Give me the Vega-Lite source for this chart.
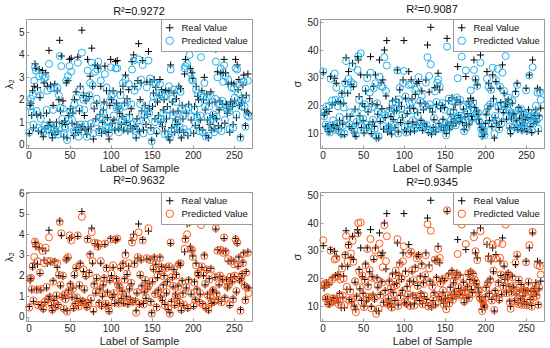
{
"$schema": "https://vega.github.io/schema/vega-lite/v6.json",
"padding": {"left": 2, "top": 3, "right": 2, "bottom": 2},
"background": "white",
"config": {
  "font": "Liberation Sans",
  "view": {"stroke": "#9a9a9a", "strokeWidth": 1},
  "axis": {"grid": false, "domainColor": "#9a9a9a", "tickColor": "#9a9a9a", "tickSize": -3, "labelPadding": 5, "labelFontSize": 10, "labelColor": "#262626", "titleFontSize": 11, "titleFontWeight": "normal", "titleColor": "#262626", "labelFont": "Liberation Sans", "titleFont": "Liberation Sans"},
  "axisY": {"titlePadding": 4},
  "axisX": {"titlePadding": 2},
  "title": {"fontSize": 11, "fontWeight": "normal", "color": "#111", "offset": 2, "font": "Liberation Sans"},
  "legend": {"orient": "top-right", "offset": 0, "title": null, "strokeColor": "#9a9a9a", "fillColor": "white", "padding": 4, "labelFontSize": 9.5, "labelOffset": 7, "labelColor": "#111", "symbolSize": 56, "symbolStrokeWidth": 1, "rowPadding": 1},
  "point": {"size": 49, "strokeWidth": 1, "filled": false, "opacity": 1}
},
"datasets": {"d": [
{"i":1,"L":0.5,"a":0.55,"b":0.45,"S":31.8,"c":32.3,"d":33.8},
{"i":2,"L":1.75,"a":1.7,"b":1.85,"S":16.5,"c":16.0,"d":17.5},
{"i":3,"L":1.85,"a":2.05,"b":1.9,"S":17.2,"c":18.0,"d":18.2},
{"i":4,"L":1.3,"a":1.45,"b":1.35,"S":12.4,"c":13.0,"d":12.8},
{"i":5,"L":2.4,"a":2.2,"b":2.45,"S":18.5,"c":19.6,"d":18.0},
{"i":6,"L":0.75,"a":0.9,"b":0.8,"S":12.4,"c":12.0,"d":13.2},
{"i":7,"L":2.6,"a":2.85,"b":2.9,"S":10.6,"c":11.2,"d":10.8},
{"i":8,"L":3.6,"a":3.45,"b":3.65,"S":17.8,"c":19.8,"d":18.3},
{"i":9,"L":3.4,"a":3.3,"b":3.5,"S":10.6,"c":10.2,"d":11.5},
{"i":10,"L":1.35,"a":1.5,"b":1.3,"S":30.4,"c":29.6,"d":30.0},
{"i":11,"L":2.55,"a":2.4,"b":2.7,"S":11.8,"c":12.8,"d":11.2},
{"i":12,"L":0.6,"a":0.75,"b":0.55,"S":20.2,"c":21.8,"d":19.6},
{"i":13,"L":3.35,"a":3.05,"b":3.4,"S":13.0,"c":14.6,"d":12.8},
{"i":14,"L":2.1,"a":2.2,"b":2.15,"S":11.8,"c":11.2,"d":12.2},
{"i":15,"L":1.3,"a":1.15,"b":1.35,"S":29.8,"c":31.5,"d":26.8},
{"i":16,"L":0.55,"a":0.65,"b":0.6,"S":21.0,"c":22.0,"d":20.5},
{"i":17,"L":3.3,"a":3.1,"b":3.2,"S":28.0,"c":26.4,"d":27.2},
{"i":18,"L":0.35,"a":0.55,"b":0.4,"S":12.8,"c":13.5,"d":12.2},
{"i":19,"L":2.75,"a":2.95,"b":2.6,"S":21.4,"c":19.6,"d":20.8},
{"i":20,"L":0.7,"a":0.85,"b":0.75,"S":11.2,"c":10.8,"d":10.6},
{"i":21,"L":3.2,"a":3.0,"b":3.35,"S":14.5,"c":15.8,"d":14.0},
{"i":22,"L":1.4,"a":1.55,"b":1.45,"S":20.8,"c":21.6,"d":19.6},
{"i":23,"L":2.6,"a":2.4,"b":2.7,"S":9.4,"c":10.0,"d":10.2},
{"i":24,"L":0.85,"a":0.65,"b":0.9,"S":24.4,"c":24.0,"d":23.6},
{"i":25,"L":4.2,"a":3.6,"b":3.85,"S":13.2,"c":12.6,"d":13.8},
{"i":26,"L":1.0,"a":0.9,"b":0.95,"S":20.8,"c":19.2,"d":20.0},
{"i":27,"L":2.65,"a":2.5,"b":2.7,"S":9.4,"c":9.8,"d":10.4},
{"i":28,"L":0.55,"a":0.75,"b":0.6,"S":28.6,"c":28.0,"d":28.4},
{"i":29,"L":0.3,"a":0.4,"b":0.35,"S":37.2,"c":36.0,"d":35.4},
{"i":30,"L":1.75,"a":1.55,"b":1.7,"S":16.0,"c":15.0,"d":17.0},
{"i":31,"L":0.8,"a":0.65,"b":0.75,"S":24.4,"c":25.6,"d":26.0},
{"i":32,"L":2.7,"a":2.5,"b":2.65,"S":32.2,"c":29.6,"d":32.0},
{"i":33,"L":0.45,"a":0.55,"b":0.5,"S":12.4,"c":13.2,"d":12.0},
{"i":34,"L":1.0,"a":0.85,"b":1.05,"S":16.0,"c":17.5,"d":15.2},
{"i":35,"L":2.4,"a":2.55,"b":2.6,"S":27.6,"c":28.4,"d":29.0},
{"i":36,"L":0.6,"a":0.45,"b":0.55,"S":11.6,"c":12.0,"d":12.4},
{"i":37,"L":2.0,"a":2.2,"b":2.05,"S":35.2,"c":34.0,"d":33.6},
{"i":38,"L":4.65,"a":3.95,"b":4.6,"S":26.8,"c":27.6,"d":26.0},
{"i":39,"L":1.5,"a":1.65,"b":1.55,"S":10.0,"c":11.0,"d":9.6},
{"i":40,"L":3.95,"a":3.5,"b":4.05,"S":18.6,"c":17.4,"d":19.0},
{"i":41,"L":0.95,"a":1.15,"b":1.0,"S":8.8,"c":9.4,"d":7.8},
{"i":42,"L":1.95,"a":1.6,"b":2.0,"S":13.6,"c":14.0,"d":13.2},
{"i":43,"L":0.35,"a":0.5,"b":0.4,"S":37.6,"c":32.8,"d":36.2},
{"i":44,"L":1.05,"a":0.8,"b":1.1,"S":36.4,"c":37.8,"d":40.0},
{"i":45,"L":0.9,"a":0.7,"b":0.85,"S":23.2,"c":22.0,"d":22.6},
{"i":46,"L":2.75,"a":2.85,"b":2.8,"S":16.2,"c":15.0,"d":16.8},
{"i":47,"L":0.3,"a":0.2,"b":0.25,"S":31.0,"c":38.8,"d":40.2},
{"i":48,"L":2.85,"a":3.05,"b":2.9,"S":12.0,"c":12.6,"d":11.4},
{"i":49,"L":1.3,"a":1.1,"b":1.25,"S":20.6,"c":19.2,"d":21.0},
{"i":50,"L":3.8,"a":3.5,"b":3.95,"S":14.6,"c":15.2,"d":14.0},
{"i":51,"L":1.6,"a":1.45,"b":1.55,"S":10.0,"c":10.8,"d":9.6},
{"i":52,"L":3.85,"a":3.25,"b":3.7,"S":19.6,"c":20.4,"d":19.2},
{"i":53,"L":0.95,"a":1.1,"b":1.0,"S":25.2,"c":26.0,"d":24.8},
{"i":54,"L":1.4,"a":1.55,"b":1.35,"S":11.8,"c":13.0,"d":12.4},
{"i":55,"L":0.4,"a":0.6,"b":0.45,"S":31.0,"c":29.8,"d":30.6},
{"i":56,"L":2.0,"a":1.8,"b":2.05,"S":17.6,"c":18.6,"d":17.0},
{"i":57,"L":0.65,"a":0.55,"b":0.6,"S":13.0,"c":12.2,"d":13.4},
{"i":58,"L":2.35,"a":2.1,"b":2.4,"S":22.4,"c":24.6,"d":23.0},
{"i":59,"L":0.9,"a":0.75,"b":0.95,"S":37.6,"c":31.8,"d":34.2},
{"i":60,"L":3.9,"a":3.65,"b":3.95,"S":9.8,"c":10.4,"d":9.2},
{"i":61,"L":0.55,"a":0.35,"b":0.5,"S":20.6,"c":19.4,"d":20.2},
{"i":62,"L":1.5,"a":1.6,"b":1.55,"S":14.0,"c":14.8,"d":13.6},
{"i":63,"L":2.6,"a":2.45,"b":2.55,"S":26.8,"c":26.2,"d":27.2},
{"i":64,"L":0.75,"a":0.9,"b":0.7,"S":12.4,"c":11.6,"d":12.8},
{"i":65,"L":5.1,"a":4.1,"b":4.85,"S":31.0,"c":28.0,"d":30.2},
{"i":66,"L":0.8,"a":0.6,"b":0.75,"S":8.2,"c":8.8,"d":7.2},
{"i":67,"L":2.2,"a":2.0,"b":2.3,"S":20.2,"c":20.8,"d":19.6},
{"i":68,"L":1.3,"a":1.55,"b":1.35,"S":16.8,"c":17.6,"d":17.4},
{"i":69,"L":0.65,"a":0.9,"b":0.7,"S":8.2,"c":8.8,"d":9.0},
{"i":70,"L":1.95,"a":2.15,"b":2.0,"S":36.4,"c":30.4,"d":32.6},
{"i":71,"L":0.45,"a":0.35,"b":0.5,"S":14.2,"c":14.6,"d":13.8},
{"i":72,"L":3.8,"a":3.3,"b":3.75,"S":28.2,"c":27.0,"d":28.6},
{"i":73,"L":0.7,"a":0.6,"b":0.65,"S":18.8,"c":17.4,"d":18.4},
{"i":74,"L":2.15,"a":2.2,"b":2.1,"S":29.2,"c":26.6,"d":24.0},
{"i":75,"L":3.05,"a":2.75,"b":3.0,"S":11.4,"c":12.6,"d":11.0},
{"i":76,"L":0.8,"a":0.95,"b":0.9,"S":40.0,"c":37.4,"d":39.2},
{"i":77,"L":4.3,"a":3.65,"b":4.1,"S":15.6,"c":16.4,"d":15.0},
{"i":78,"L":2.6,"a":2.65,"b":2.7,"S":23.4,"c":25.2,"d":26.2},
{"i":79,"L":0.25,"a":0.5,"b":0.35,"S":43.4,"c":34.4,"d":35.2},
{"i":80,"L":1.6,"a":1.75,"b":1.55,"S":10.4,"c":11.6,"d":10.8},
{"i":81,"L":3.55,"a":3.25,"b":3.6,"S":12.6,"c":12.0,"d":13.2},
{"i":82,"L":1.15,"a":1.0,"b":1.2,"S":19.0,"c":17.6,"d":18.6},
{"i":83,"L":1.85,"a":2.05,"b":1.9,"S":11.0,"c":11.8,"d":10.6},
{"i":84,"L":3.5,"a":3.35,"b":3.4,"S":16.0,"c":16.6,"d":16.4},
{"i":85,"L":3.4,"a":3.7,"b":3.55,"S":9.6,"c":10.4,"d":9.4},
{"i":86,"L":0.7,"a":0.55,"b":0.65,"S":21.6,"c":20.8,"d":21.0},
{"i":87,"L":1.35,"a":1.2,"b":1.3,"S":14.8,"c":13.2,"d":14.4},
{"i":88,"L":2.6,"a":2.85,"b":2.7,"S":17.8,"c":19.0,"d":17.2},
{"i":89,"L":0.5,"a":0.65,"b":0.55,"S":12.0,"c":12.8,"d":11.6},
{"i":90,"L":1.0,"a":1.2,"b":1.1,"S":22.2,"c":21.0,"d":22.8},
{"i":91,"L":1.55,"a":1.4,"b":1.6,"S":18.2,"c":18.8,"d":17.6},
{"i":92,"L":1.9,"a":1.7,"b":1.85,"S":32.8,"c":32.6,"d":34.2},
{"i":93,"L":3.5,"a":3.15,"b":3.55,"S":10.4,"c":9.8,"d":10.0},
{"i":94,"L":0.6,"a":0.8,"b":0.65,"S":21.0,"c":22.2,"d":20.6},
{"i":95,"L":2.4,"a":2.55,"b":2.35,"S":25.6,"c":26.4,"d":25.2},
{"i":96,"L":1.2,"a":1.0,"b":1.15,"S":13.8,"c":14.4,"d":13.2},
{"i":97,"L":0.55,"a":0.75,"b":0.5,"S":19.6,"c":18.6,"d":20.0},
{"i":98,"L":0.25,"a":0.5,"b":0.3,"S":15.6,"c":16.6,"d":15.0},
{"i":99,"L":1.75,"a":1.95,"b":1.8,"S":29.2,"c":28.0,"d":26.2},
{"i":100,"L":3.8,"a":3.45,"b":3.75,"S":43.4,"c":32.4,"d":31.6},
{"i":101,"L":2.0,"a":2.2,"b":2.1,"S":11.2,"c":12.2,"d":11.6},
{"i":102,"L":0.95,"a":0.8,"b":1.0,"S":22.6,"c":23.2,"d":21.8},
{"i":103,"L":2.4,"a":2.25,"b":2.5,"S":10.6,"c":10.2,"d":11.0},
{"i":104,"L":1.1,"a":1.3,"b":1.15,"S":17.0,"c":17.8,"d":16.4},
{"i":105,"L":0.65,"a":0.85,"b":0.7,"S":13.4,"c":13.0,"d":14.2},
{"i":106,"L":3.7,"a":3.4,"b":3.75,"S":32.2,"c":27.4,"d":28.8},
{"i":107,"L":1.85,"a":1.65,"b":1.8,"S":19.0,"c":20.6,"d":18.4},
{"i":108,"L":3.75,"a":3.4,"b":3.8,"S":10.4,"c":11.2,"d":10.0},
{"i":109,"L":1.6,"a":1.75,"b":1.55,"S":29.2,"c":27.6,"d":29.6},
{"i":110,"L":0.7,"a":0.55,"b":0.65,"S":22.4,"c":21.2,"d":23.0},
{"i":111,"L":1.4,"a":1.6,"b":1.45,"S":14.0,"c":14.6,"d":13.6},
{"i":112,"L":2.35,"a":2.2,"b":2.4,"S":18.8,"c":18.2,"d":19.4},
{"i":113,"L":0.9,"a":1.05,"b":0.95,"S":10.8,"c":11.4,"d":10.2},
{"i":114,"L":1.25,"a":1.1,"b":1.2,"S":24.0,"c":25.6,"d":23.6},
{"i":115,"L":2.6,"a":2.75,"b":2.55,"S":13.0,"c":12.2,"d":13.6},
{"i":116,"L":0.65,"a":0.8,"b":0.7,"S":28.0,"c":26.4,"d":27.2},
{"i":117,"L":1.85,"a":1.7,"b":1.8,"S":17.4,"c":16.2,"d":17.2},
{"i":118,"L":3.1,"a":2.9,"b":3.0,"S":28.6,"c":30.2,"d":28.2},
{"i":119,"L":1.0,"a":1.2,"b":1.05,"S":12.0,"c":12.6,"d":11.6},
{"i":120,"L":2.05,"a":1.9,"b":2.1,"S":20.8,"c":21.6,"d":20.0},
{"i":121,"L":0.6,"a":0.75,"b":0.65,"S":14.6,"c":14.0,"d":14.2},
{"i":122,"L":2.45,"a":2.7,"b":2.6,"S":25.2,"c":23.4,"d":24.6},
{"i":123,"L":1.35,"a":1.2,"b":1.4,"S":11.0,"c":11.8,"d":10.6},
{"i":124,"L":0.85,"a":0.7,"b":0.8,"S":18.4,"c":19.6,"d":18.0},
{"i":125,"L":1.6,"a":1.8,"b":1.65,"S":13.4,"c":12.8,"d":13.8},
{"i":126,"L":3.7,"a":3.35,"b":3.6,"S":20.6,"c":20.0,"d":21.2},
{"i":127,"L":0.7,"a":0.9,"b":0.75,"S":29.2,"c":28.2,"d":28.4},
{"i":128,"L":4.0,"a":3.75,"b":3.85,"S":12.4,"c":13.0,"d":11.8},
{"i":129,"L":2.6,"a":2.4,"b":2.55,"S":41.8,"c":37.4,"d":39.6},
{"i":130,"L":0.8,"a":0.6,"b":0.75,"S":10.2,"c":11.0,"d":9.8},
{"i":131,"L":0.3,"a":0.4,"b":0.2,"S":24.8,"c":30.6,"d":23.6},
{"i":132,"L":1.15,"a":1.0,"b":1.2,"S":19.0,"c":20.4,"d":18.6},
{"i":133,"L":2.85,"a":2.6,"b":2.9,"S":48.2,"c":34.8,"d":37.2},
{"i":134,"L":4.5,"a":3.8,"b":4.1,"S":9.6,"c":10.4,"d":10.0},
{"i":135,"L":0.6,"a":0.8,"b":0.65,"S":17.6,"c":18.8,"d":17.0},
{"i":136,"L":2.0,"a":1.8,"b":2.05,"S":12.0,"c":11.4,"d":12.6},
{"i":137,"L":2.75,"a":2.9,"b":2.8,"S":14.8,"c":15.4,"d":14.2},
{"i":138,"L":1.5,"a":1.35,"b":1.45,"S":26.4,"c":25.0,"d":26.8},
{"i":139,"L":3.75,"a":3.55,"b":3.7,"S":10.4,"c":11.2,"d":10.8},
{"i":140,"L":0.65,"a":0.5,"b":0.6,"S":20.4,"c":21.2,"d":19.8},
{"i":141,"L":1.2,"a":1.35,"b":1.25,"S":27.0,"c":28.2,"d":26.2},
{"i":142,"L":1.75,"a":1.6,"b":1.8,"S":31.6,"c":29.4,"d":30.6},
{"i":143,"L":0.9,"a":1.05,"b":0.95,"S":13.4,"c":12.6,"d":14.0},
{"i":144,"L":2.8,"a":2.55,"b":2.85,"S":25.6,"c":26.8,"d":27.4},
{"i":145,"L":1.35,"a":1.5,"b":1.4,"S":18.8,"c":19.8,"d":18.2},
{"i":146,"L":4.15,"a":3.75,"b":4.3,"S":12.2,"c":11.6,"d":12.8},
{"i":147,"L":1.6,"a":1.4,"b":1.55,"S":20.0,"c":20.8,"d":19.4},
{"i":148,"L":2.8,"a":2.95,"b":2.75,"S":15.0,"c":14.2,"d":15.6},
{"i":149,"L":0.75,"a":0.6,"b":0.7,"S":11.0,"c":11.8,"d":10.4},
{"i":150,"L":0.2,"a":0.15,"b":0.15,"S":19.2,"c":18.4,"d":19.8},
{"i":151,"L":1.7,"a":1.85,"b":1.75,"S":12.8,"c":13.4,"d":12.0},
{"i":152,"L":2.3,"a":2.15,"b":2.35,"S":9.8,"c":9.2,"d":8.8},
{"i":153,"L":2.9,"a":2.75,"b":2.85,"S":44.2,"c":41.2,"d":44.6},
{"i":154,"L":1.15,"a":1.0,"b":1.1,"S":13.0,"c":12.4,"d":13.6},
{"i":155,"L":2.55,"a":2.7,"b":2.6,"S":21.6,"c":22.4,"d":21.0},
{"i":156,"L":0.5,"a":0.6,"b":0.45,"S":11.4,"c":12.0,"d":11.0},
{"i":157,"L":1.9,"a":2.1,"b":2.0,"S":16.8,"c":17.6,"d":16.2},
{"i":158,"L":1.3,"a":1.15,"b":1.25,"S":14.0,"c":14.8,"d":13.4},
{"i":159,"L":2.2,"a":2.3,"b":2.25,"S":22.8,"c":21.6,"d":22.2},
{"i":160,"L":2.9,"a":2.7,"b":2.85,"S":12.6,"c":13.4,"d":12.2},
{"i":161,"L":1.0,"a":1.15,"b":1.05,"S":18.4,"c":17.6,"d":18.8},
{"i":162,"L":2.45,"a":2.25,"b":2.4,"S":15.2,"c":16.0,"d":14.8},
{"i":163,"L":0.8,"a":0.95,"b":0.85,"S":20.2,"c":21.4,"d":20.8},
{"i":164,"L":1.55,"a":1.4,"b":1.5,"S":13.6,"c":12.8,"d":14.0},
{"i":165,"L":2.0,"a":2.15,"b":1.95,"S":22.0,"c":22.8,"d":21.6},
{"i":166,"L":0.6,"a":0.45,"b":0.55,"S":34.0,"c":29.8,"d":28.8},
{"i":167,"L":2.4,"a":2.2,"b":2.35,"S":16.4,"c":15.6,"d":16.8},
{"i":168,"L":1.15,"a":1.3,"b":1.2,"S":14.2,"c":14.8,"d":13.8},
{"i":169,"L":1.7,"a":1.55,"b":1.65,"S":21.2,"c":22.0,"d":20.6},
{"i":170,"L":0.35,"a":0.45,"b":0.4,"S":15.6,"c":16.2,"d":15.0},
{"i":171,"L":2.4,"a":2.6,"b":2.45,"S":46.6,"c":37.6,"d":39.4},
{"i":172,"L":0.2,"a":0.3,"b":0.15,"S":13.8,"c":14.4,"d":14.2},
{"i":173,"L":3.55,"a":3.35,"b":3.6,"S":18.6,"c":19.4,"d":18.0},
{"i":174,"L":0.75,"a":0.6,"b":0.7,"S":11.2,"c":10.6,"d":11.6},
{"i":175,"L":1.9,"a":2.05,"b":1.95,"S":15.8,"c":16.6,"d":15.2},
{"i":176,"L":1.45,"a":1.3,"b":1.5,"S":30.4,"c":32.6,"d":32.4},
{"i":177,"L":2.3,"a":2.45,"b":2.35,"S":12.8,"c":12.0,"d":13.2},
{"i":178,"L":0.55,"a":0.7,"b":0.6,"S":17.0,"c":17.8,"d":16.6},
{"i":179,"L":1.1,"a":0.95,"b":1.05,"S":21.4,"c":20.6,"d":21.8},
{"i":180,"L":2.05,"a":1.9,"b":2.0,"S":13.2,"c":13.8,"d":12.8},
{"i":181,"L":0.9,"a":1.1,"b":0.95,"S":19.6,"c":20.4,"d":19.2},
{"i":182,"L":1.5,"a":1.35,"b":1.45,"S":22.6,"c":25.4,"d":22.2},
{"i":183,"L":2.6,"a":2.45,"b":2.55,"S":16.0,"c":15.2,"d":16.4},
{"i":184,"L":0.65,"a":0.8,"b":0.7,"S":14.8,"c":15.6,"d":14.4},
{"i":185,"L":2.5,"a":2.35,"b":2.6,"S":21.8,"c":20.8,"d":21.4},
{"i":186,"L":0.3,"a":0.5,"b":0.35,"S":36.4,"c":32.8,"d":34.8},
{"i":187,"L":1.75,"a":1.6,"b":1.7,"S":19.2,"c":18.4,"d":19.6},
{"i":188,"L":1.15,"a":1.3,"b":1.1,"S":29.2,"c":29.6,"d":29.8},
{"i":189,"L":0.55,"a":0.7,"b":0.6,"S":18.0,"c":17.2,"d":18.4},
{"i":190,"L":3.15,"a":3.4,"b":3.3,"S":27.4,"c":27.0,"d":26.6},
{"i":191,"L":3.8,"a":3.5,"b":3.75,"S":16.6,"c":17.4,"d":16.2},
{"i":192,"L":1.4,"a":1.55,"b":1.45,"S":15.0,"c":14.4,"d":15.4},
{"i":193,"L":4.5,"a":3.6,"b":4.0,"S":13.4,"c":14.0,"d":13.0},
{"i":194,"L":0.4,"a":0.55,"b":0.45,"S":38.2,"c":35.4,"d":37.0},
{"i":195,"L":1.8,"a":1.65,"b":1.75,"S":12.0,"c":11.4,"d":12.4},
{"i":196,"L":4.55,"a":4.0,"b":4.6,"S":8.8,"c":9.4,"d":8.2},
{"i":197,"L":3.4,"a":3.2,"b":3.3,"S":11.4,"c":10.8,"d":11.8},
{"i":198,"L":1.1,"a":1.25,"b":1.15,"S":10.4,"c":11.0,"d":10.0},
{"i":199,"L":3.2,"a":2.9,"b":3.25,"S":9.6,"c":9.2,"d":9.8},
{"i":200,"L":2.95,"a":2.85,"b":2.9,"S":13.4,"c":12.8,"d":13.0},
{"i":201,"L":0.5,"a":0.65,"b":0.55,"S":16.8,"c":17.4,"d":16.4},
{"i":202,"L":1.7,"a":1.55,"b":1.65,"S":32.2,"c":29.6,"d":33.4},
{"i":203,"L":0.85,"a":1.0,"b":0.8,"S":18.6,"c":19.4,"d":18.2},
{"i":204,"L":2.6,"a":2.45,"b":2.5,"S":28.0,"c":26.6,"d":27.2},
{"i":205,"L":1.35,"a":1.2,"b":1.3,"S":14.6,"c":15.4,"d":14.2},
{"i":206,"L":2.15,"a":2.3,"b":2.1,"S":19.8,"c":20.4,"d":19.4},
{"i":207,"L":2.0,"a":1.85,"b":2.05,"S":26.2,"c":25.6,"d":27.0},
{"i":208,"L":0.75,"a":0.6,"b":0.7,"S":12.4,"c":13.0,"d":12.0},
{"i":209,"L":1.1,"a":1.3,"b":1.15,"S":31.0,"c":33.6,"d":32.2},
{"i":210,"L":4.75,"a":3.9,"b":4.45,"S":22.4,"c":21.6,"d":22.8},
{"i":211,"L":2.4,"a":2.2,"b":2.45,"S":8.2,"c":9.8,"d":8.6},
{"i":212,"L":0.65,"a":0.55,"b":0.6,"S":15.6,"c":16.2,"d":15.2},
{"i":213,"L":2.0,"a":2.15,"b":2.1,"S":28.6,"c":29.2,"d":27.2},
{"i":214,"L":3.0,"a":2.75,"b":2.95,"S":13.6,"c":14.4,"d":13.2},
{"i":215,"L":1.55,"a":1.7,"b":1.6,"S":40.6,"c":33.2,"d":32.8},
{"i":216,"L":0.4,"a":0.35,"b":0.45,"S":18.6,"c":19.4,"d":18.2},
{"i":217,"L":2.25,"a":2.1,"b":2.3,"S":12.0,"c":11.4,"d":12.4},
{"i":218,"L":1.1,"a":1.25,"b":1.05,"S":26.2,"c":26.8,"d":27.4},
{"i":219,"L":0.3,"a":0.4,"b":0.35,"S":21.0,"c":20.2,"d":21.4},
{"i":220,"L":1.85,"a":1.7,"b":1.8,"S":14.2,"c":13.6,"d":14.6},
{"i":221,"L":0.9,"a":1.05,"b":0.95,"S":34.6,"c":31.8,"d":32.4},
{"i":222,"L":2.35,"a":2.15,"b":2.3,"S":17.4,"c":18.2,"d":17.0},
{"i":223,"L":0.65,"a":0.8,"b":0.7,"S":24.4,"c":25.2,"d":25.0},
{"i":224,"L":1.3,"a":1.15,"b":1.25,"S":19.6,"c":20.2,"d":19.2},
{"i":225,"L":1.2,"a":1.35,"b":1.3,"S":21.4,"c":37.8,"d":39.4},
{"i":226,"L":0.7,"a":0.55,"b":0.75,"S":15.0,"c":15.8,"d":14.6},
{"i":227,"L":1.9,"a":2.05,"b":1.95,"S":20.2,"c":19.4,"d":20.6},
{"i":228,"L":4.25,"a":3.7,"b":4.3,"S":22.0,"c":22.8,"d":21.6},
{"i":229,"L":1.15,"a":1.25,"b":1.1,"S":17.2,"c":18.0,"d":16.8},
{"i":230,"L":3.25,"a":3.0,"b":3.2,"S":11.8,"c":12.4,"d":11.4},
{"i":231,"L":0.85,"a":0.7,"b":0.8,"S":9.8,"c":10.4,"d":9.0},
{"i":232,"L":1.55,"a":1.75,"b":1.6,"S":15.2,"c":15.8,"d":14.8},
{"i":233,"L":1.95,"a":1.8,"b":2.0,"S":20.8,"c":21.6,"d":20.4},
{"i":234,"L":3.2,"a":3.4,"b":3.25,"S":17.0,"c":16.4,"d":17.4},
{"i":235,"L":0.75,"a":0.6,"b":0.7,"S":16.6,"c":17.4,"d":15.8},
{"i":236,"L":1.8,"a":1.95,"b":1.85,"S":12.0,"c":12.6,"d":11.6},
{"i":237,"L":3.2,"a":2.8,"b":3.1,"S":25.0,"c":24.2,"d":25.6},
{"i":238,"L":3.8,"a":3.55,"b":3.85,"S":14.4,"c":13.8,"d":14.8},
{"i":239,"L":0.95,"a":1.1,"b":0.9,"S":28.0,"c":27.4,"d":28.6},
{"i":240,"L":3.2,"a":3.05,"b":3.15,"S":11.2,"c":11.8,"d":10.8},
{"i":241,"L":1.8,"a":1.6,"b":1.75,"S":19.2,"c":18.6,"d":19.6},
{"i":242,"L":1.4,"a":1.55,"b":1.45,"S":15.4,"c":16.0,"d":14.8},
{"i":243,"L":2.7,"a":2.9,"b":2.8,"S":12.6,"c":13.4,"d":12.2},
{"i":244,"L":1.6,"a":1.45,"b":1.55,"S":17.8,"c":18.6,"d":17.4},
{"i":245,"L":0.55,"a":0.7,"b":0.6,"S":10.8,"c":11.4,"d":10.4},
{"i":246,"L":1.9,"a":1.75,"b":1.95,"S":13.6,"c":13.0,"d":14.0},
{"i":247,"L":2.75,"a":2.55,"b":2.7,"S":16.2,"c":17.0,"d":15.8},
{"i":248,"L":1.7,"a":1.85,"b":1.75,"S":11.6,"c":12.2,"d":11.2},
{"i":249,"L":0.9,"a":0.75,"b":0.85,"S":14.8,"c":14.2,"d":15.4},
{"i":250,"L":2.7,"a":2.5,"b":2.55,"S":26.2,"c":25.4,"d":25.8},
{"i":251,"L":1.95,"a":2.1,"b":2.0,"S":10.6,"c":11.2,"d":10.2},
{"i":252,"L":3.8,"a":3.4,"b":3.75,"S":15.6,"c":16.2,"d":15.2},
{"i":253,"L":1.2,"a":1.35,"b":1.25,"S":18.4,"c":17.6,"d":18.8},
{"i":254,"L":3.55,"a":3.35,"b":3.6,"S":31.0,"c":30.8,"d":32.0},
{"i":255,"L":2.45,"a":2.3,"b":2.5,"S":12.4,"c":13.0,"d":12.0},
{"i":256,"L":2.9,"a":2.7,"b":2.85,"S":15.4,"c":16.0,"d":15.0},
{"i":257,"L":1.75,"a":1.9,"b":1.8,"S":10.2,"c":10.8,"d":9.8},
{"i":258,"L":0.35,"a":0.3,"b":0.3,"S":36.4,"c":33.8,"d":36.8},
{"i":259,"L":1.85,"a":1.7,"b":1.9,"S":13.4,"c":14.0,"d":13.0},
{"i":260,"L":2.1,"a":1.95,"b":2.05,"S":16.4,"c":17.0,"d":16.0},
{"i":261,"L":2.65,"a":2.8,"b":2.6,"S":15.2,"c":15.8,"d":14.8},
{"i":262,"L":3.1,"a":2.8,"b":3.05,"S":18.4,"c":19.8,"d":17.6},
{"i":263,"L":1.55,"a":1.7,"b":1.5,"S":14.0,"c":14.6,"d":13.6},
{"i":264,"L":0.85,"a":0.8,"b":0.8,"S":26.2,"c":24.6,"d":24.8},
{"i":265,"L":2.2,"a":2.05,"b":2.15,"S":10.6,"c":11.6,"d":10.4},
{"i":266,"L":1.45,"a":1.3,"b":1.4,"S":16.2,"c":15.6,"d":16.6},
{"i":267,"L":3.15,"a":2.85,"b":3.1,"S":25.6,"c":24.8,"d":24.4},
{"i":268,"L":1.4,"a":1.25,"b":1.15,"S":19.0,"c":22.0,"d":21.4}
]},
"columns": 2,
"spacing": {"row": 0, "column": 36},
"resolve": {"scale": {"color": "independent", "shape": "independent", "x": "independent", "y": "independent"}, "legend": {"color": "independent", "shape": "independent"}},
"concat": [
{
  "width": 226, "height": 129,
  "title": "R²=0.9272",
  "data": {"name": "d"},
  "transform": [{"fold": ["L", "a"], "as": ["k", "v"]}],
  "mark": {"type": "point", "filled": false},
  "encoding": {
    "x": {"field": "i", "type": "quantitative", "scale": {"domain": [-3, 272], "nice": false, "zero": false}, "axis": {"title": "Label of Sample", "values": [0, 50, 100, 150, 200, 250]}},
    "y": {"field": "v", "type": "quantitative", "scale": {"domain": [-0.15, 5.6], "nice": false, "zero": false}, "axis": {"title": "λ₂", "values": [0, 1, 2, 3, 4, 5]}},
    "color": {"field": "k", "type": "nominal", "scale": {"domain": ["L", "a"], "range": ["#000000", "#22b1ea"]}, "legend": {"labelExpr": "datum.label == 'L' ? 'Real Value' : 'Predicted Value'"}},
    "shape": {"field": "k", "type": "nominal", "scale": {"domain": ["L", "a"], "range": ["M-1,0H1M0,-1V1", "circle"]}, "legend": {"labelExpr": "datum.label == 'L' ? 'Real Value' : 'Predicted Value'"}},
    "order": {"field": "k", "sort": "ascending"}
  }
},
{
  "width": 224, "height": 129,
  "title": "R²=0.9087",
  "data": {"name": "d"},
  "transform": [{"fold": ["S", "c"], "as": ["k", "v"]}],
  "mark": {"type": "point", "filled": false},
  "encoding": {
    "x": {"field": "i", "type": "quantitative", "scale": {"domain": [-3, 272], "nice": false, "zero": false}, "axis": {"title": "Label of Sample", "values": [0, 50, 100, 150, 200, 250]}},
    "y": {"field": "v", "type": "quantitative", "scale": {"domain": [4.6, 51.2], "nice": false, "zero": false}, "axis": {"title": "σ", "values": [10, 20, 30, 40, 50]}},
    "color": {"field": "k", "type": "nominal", "scale": {"domain": ["S", "c"], "range": ["#000000", "#22b1ea"]}, "legend": {"labelExpr": "datum.label == 'S' ? 'Real Value' : 'Predicted Value'"}},
    "shape": {"field": "k", "type": "nominal", "scale": {"domain": ["S", "c"], "range": ["M-1,0H1M0,-1V1", "circle"]}, "legend": {"labelExpr": "datum.label == 'S' ? 'Real Value' : 'Predicted Value'"}},
    "order": {"field": "k", "sort": "ascending"}
  }
},
{
  "width": 226, "height": 129,
  "title": "R²=0.9632",
  "data": {"name": "d"},
  "transform": [{"fold": ["L", "b"], "as": ["k", "v"]}],
  "mark": {"type": "point", "filled": false},
  "encoding": {
    "x": {"field": "i", "type": "quantitative", "scale": {"domain": [-3, 272], "nice": false, "zero": false}, "axis": {"title": "Label of Sample", "values": [0, 50, 100, 150, 200, 250]}},
    "y": {"field": "v", "type": "quantitative", "scale": {"domain": [-0.2, 6.05], "nice": false, "zero": false}, "axis": {"title": "λ₂", "values": [0, 1, 2, 3, 4, 5, 6]}},
    "color": {"field": "k", "type": "nominal", "scale": {"domain": ["L", "b"], "range": ["#000000", "#fb5a1b"]}, "legend": {"labelExpr": "datum.label == 'L' ? 'Real Value' : 'Predicted Value'"}},
    "shape": {"field": "k", "type": "nominal", "scale": {"domain": ["L", "b"], "range": ["M-1,0H1M0,-1V1", "circle"]}, "legend": {"labelExpr": "datum.label == 'L' ? 'Real Value' : 'Predicted Value'"}},
    "order": {"field": "k", "sort": "ascending"}
  }
},
{
  "width": 224, "height": 129,
  "title": "R²=0.9345",
  "data": {"name": "d"},
  "transform": [{"fold": ["S", "d"], "as": ["k", "v"]}],
  "mark": {"type": "point", "filled": false},
  "encoding": {
    "x": {"field": "i", "type": "quantitative", "scale": {"domain": [-3, 272], "nice": false, "zero": false}, "axis": {"title": "Label of Sample", "values": [0, 50, 100, 150, 200, 250]}},
    "y": {"field": "v", "type": "quantitative", "scale": {"domain": [4.6, 51.2], "nice": false, "zero": false}, "axis": {"title": "σ", "values": [10, 20, 30, 40, 50]}},
    "color": {"field": "k", "type": "nominal", "scale": {"domain": ["S", "d"], "range": ["#000000", "#fb5a1b"]}, "legend": {"labelExpr": "datum.label == 'S' ? 'Real Value' : 'Predicted Value'"}},
    "shape": {"field": "k", "type": "nominal", "scale": {"domain": ["S", "d"], "range": ["M-1,0H1M0,-1V1", "circle"]}, "legend": {"labelExpr": "datum.label == 'S' ? 'Real Value' : 'Predicted Value'"}},
    "order": {"field": "k", "sort": "ascending"}
  }
}
]
}
